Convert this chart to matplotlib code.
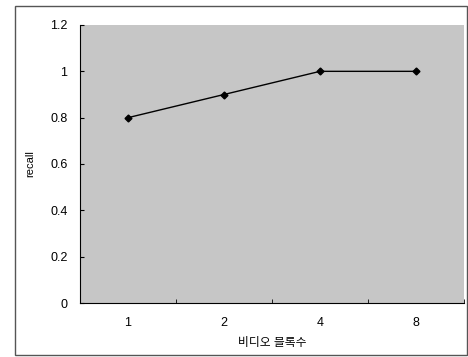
import numpy as np
import matplotlib.pyplot as plt
from matplotlib.patches import Rectangle

plt.rcParams['font.family'] = ['Liberation Sans', 'Noto Sans CJK KR', 'DejaVu Sans']

blocks = ['1', '2', '4', '8']
recall = [0.8, 0.9, 1.0, 1.0]

fig = plt.figure(figsize=(4.68, 3.57), dpi=100)
ax = fig.add_axes([80 / 468, 54 / 357, 384 / 468, 278 / 357])

x = np.arange(len(blocks))
ax.set_facecolor('#c6c6c6')
ax.plot(x, recall, color='black', lw=1, marker='D', ms=3.5)

ax.set_xlim(-0.5, len(blocks) - 0.5)
ax.set_ylim(0, 1.2)
ax.set_yticks(np.arange(0, 1.21, 0.2))
ax.set_yticklabels(['0', '0.2', '0.4', '0.6', '0.8', '1', '1.2'])
ax.set_xticks(x)
ax.set_xticklabels(blocks)
ax.set_xticks(np.arange(-0.5, len(blocks)), minor=True)
ax.tick_params(axis='x', which='major', length=0, pad=10, labelsize=9)
ax.tick_params(axis='x', which='minor', direction='in', length=3)
ax.tick_params(axis='y', direction='in', length=3, pad=9, labelsize=9)

ax.spines['top'].set_visible(False)
ax.spines['right'].set_visible(False)

ax.set_ylabel('recall', fontsize=8)
ax.yaxis.set_label_coords(-0.117, 0.5)
ax.set_xlabel('비디오 블록수', fontsize=8.5, labelpad=6)

fig.patches.append(Rectangle((15 / 468, 2 / 357), 452 / 468, 349 / 357,
                             transform=fig.transFigure, fill=False,
                             edgecolor='#555555', lw=1))

fig.savefig('out.png', dpi=100)
